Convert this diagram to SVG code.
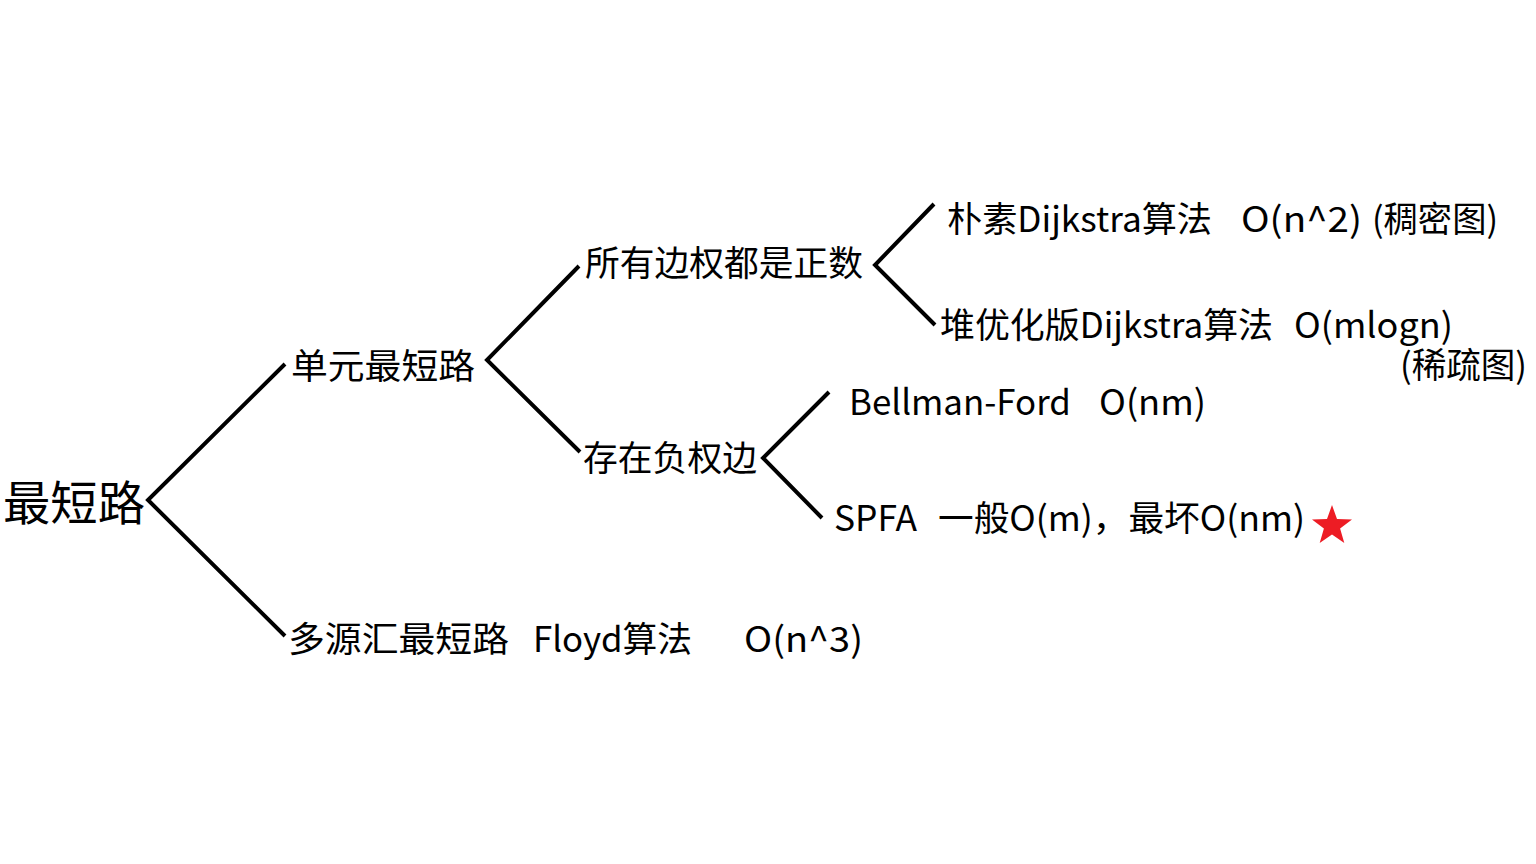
<svg xmlns="http://www.w3.org/2000/svg" width="1536" height="864" viewBox="0 0 1536 864">
<style>
text{font-family:"Microsoft YaHei","Noto Sans CJK SC","Noto Sans",sans-serif;fill:#000;font-size:35px}
.root{font-size:47px}
.c{fill:none;stroke:#000;stroke-width:4;stroke-linejoin:miter;stroke-linecap:butt}
</style>
<rect width="1536" height="864" fill="#fff"/>
<g id="connectors">
<polyline class="c" points="285,364 148,500 285,636"/>
<polyline class="c" points="579,266 487,360 580,452"/>
<polyline class="c" points="934,204 875,265 935,325"/>
<polyline class="c" points="829,392 763,458 822,518"/>
</g>
<g id="n-root"><text class="root" x="3" y="520" textLength="142" lengthAdjust="spacingAndGlyphs">最短路</text></g>
<g id="n-single"><text x="291" y="379" font-size="36" textLength="184" lengthAdjust="spacingAndGlyphs">单元最短路</text></g>
<g id="n-positive"><text x="585" y="276" textLength="278" lengthAdjust="spacingAndGlyphs">所有边权都是正数</text></g>
<g id="n-negative"><text x="583" y="471" textLength="174" lengthAdjust="spacingAndGlyphs">存在负权边</text></g>
<g id="n-dij1">
<text x="947" y="232" textLength="265" lengthAdjust="spacingAndGlyphs">朴素Dijkstra算法</text>
<text x="1241" y="232" textLength="121" lengthAdjust="spacingAndGlyphs">O(n^2)</text>
<text x="1372" y="232" textLength="126" lengthAdjust="spacingAndGlyphs">(稠密图)</text>
</g>
<g id="n-dij2">
<text x="940" y="338" textLength="333" lengthAdjust="spacingAndGlyphs">堆优化版Dijkstra算法</text>
<text x="1294" y="338" textLength="159" lengthAdjust="spacingAndGlyphs">O(mlogn)</text>
<text x="1400" y="378" textLength="127" lengthAdjust="spacingAndGlyphs">(稀疏图)</text>
</g>
<g id="n-bf">
<text x="849" y="415" textLength="222" lengthAdjust="spacingAndGlyphs">Bellman-Ford</text>
<text x="1099" y="415" textLength="107" lengthAdjust="spacingAndGlyphs">O(nm)</text>
</g>
<g id="n-spfa">
<text x="834" y="531" textLength="83" lengthAdjust="spacingAndGlyphs">SPFA</text>
<text x="938" y="531" textLength="367" lengthAdjust="spacingAndGlyphs">一般O(m)，最坏O(nm)</text>
<polygon fill="#ED1C24" points="1332,505 1337,519.1 1352,519.5 1340.1,528.6 1344.3,543 1332,534.5 1319.7,543 1323.9,528.6 1312,519.5 1327,519.1"/>
</g>
<g id="n-multi">
<text x="288" y="652" textLength="221" lengthAdjust="spacingAndGlyphs">多源汇最短路</text>
<text x="533" y="652" textLength="159" lengthAdjust="spacingAndGlyphs">Floyd算法</text>
<text x="744" y="652" textLength="119" lengthAdjust="spacingAndGlyphs">O(n^3)</text>
</g>
</svg>
